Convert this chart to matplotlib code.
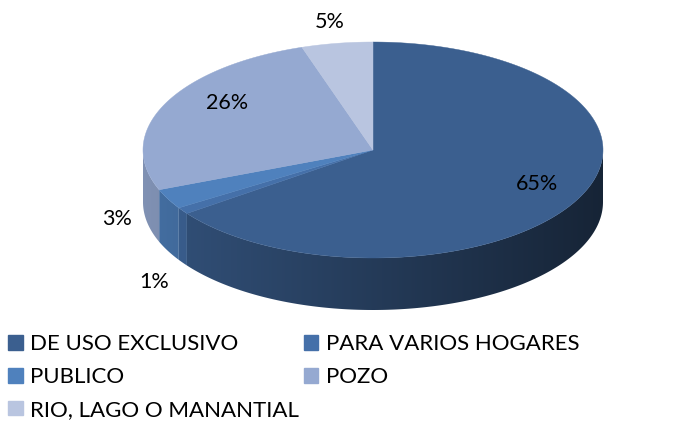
import numpy as np
import matplotlib.pyplot as plt
from matplotlib.patches import Patch, Polygon
from matplotlib.colors import to_rgb

categories = ["DE USO EXCLUSIVO", "PARA VARIOS HOGARES", "PUBLICO", "POZO",
              "RIO, LAGO O MANANTIAL"]
values = [65, 1, 3, 26, 5]
labels = ["65%", "1%", "3%", "26%", "5%"]
colors = ["#3B5F8F", "#4570A9", "#4F81BD", "#95A9D1", "#B9C5E0"]

plt.rcParams['font.family'] = ['Lato', 'DejaVu Sans']

fig = plt.figure(figsize=(6.77, 4.46), dpi=100)
ax = fig.add_axes([0, 0, 1, 1])
ax.axis('off')

# ellipse geometry in pixels (top face) and wall height
cx, cy, rx, ry, depth = 373, 150, 230, 108, 52


def pt(phi, dy=0.0):
    # phi measured clockwise from 12 o'clock
    return cx + rx * np.sin(phi), cy - ry * np.cos(phi) + dy


frac = np.array(values) / sum(values)
edges = np.concatenate([[0], np.cumsum(frac)]) * 2 * np.pi

# side walls (front half only), with a horizontal gradient darker to the right
xg = np.linspace(0, 1, 256)
shade = 0.86 - 0.48 * xg
for i in range(len(values)):
    a0 = max(edges[i], np.pi / 2)
    a1 = min(edges[i + 1], 3 * np.pi / 2)
    if a1 <= a0:
        continue
    t = np.linspace(a0, a1, 200)
    x, y = pt(t)
    verts = np.column_stack([np.concatenate([x, x[::-1]]),
                             np.concatenate([y, (y + depth)[::-1]])])
    base = np.array(to_rgb(colors[i]))
    img = (shade[:, None] * base[None, :])[None, :, :]
    poly = Polygon(verts, closed=True, fc='none', ec='none')
    ax.add_patch(poly)
    im = ax.imshow(img, extent=(cx - rx, cx + rx, cy + ry + depth, cy - ry),
                   aspect='auto', interpolation='bilinear', zorder=1)
    im.set_clip_path(poly)

# top face
for i in range(len(values)):
    t = np.linspace(edges[i], edges[i + 1], 200)
    x, y = pt(t)
    ax.fill(np.concatenate([[cx], x]), np.concatenate([[cy], y]),
            color=colors[i], ec=colors[i], lw=0.3, zorder=2)

ax.set_xlim(0, 677)
ax.set_ylim(446, 0)

# data labels
label_r = [0.8, 1.15, 1.25, 0.7, 1.2]
label_dy = [-5, 62, 8, -15, 0]
for i in range(len(values)):
    mid = (edges[i] + edges[i + 1]) / 2
    lx = cx + rx * label_r[i] * np.sin(mid)
    ly = cy - ry * label_r[i] * np.cos(mid) + label_dy[i]
    ax.text(lx, ly, labels[i], ha='center', va='center', fontsize=15.5,
            color='black', zorder=3)

# legend, row-major order like the original
order = [0, 2, 4, 1, 3]
handles = [Patch(color=colors[i], label=categories[i]) for i in order]
fig.legend(handles=handles, loc='upper left', bbox_to_anchor=(0.012, 1 - 334 / 446),
           ncol=2, frameon=False, fontsize=16, handlelength=0.65,
           handleheight=0.65, handletextpad=0.35, labelspacing=0.58,
           columnspacing=0.2, borderaxespad=0, borderpad=0)

fig.savefig("out.png", dpi=100)
